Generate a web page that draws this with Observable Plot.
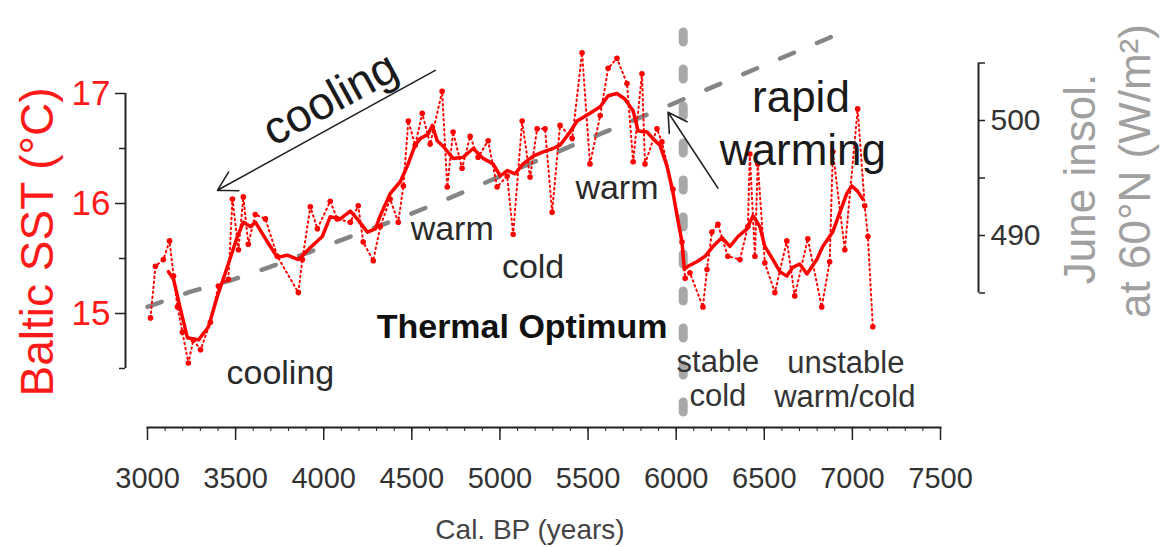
<!DOCTYPE html>
<html><head><meta charset="utf-8">
<script src="https://cdn.jsdelivr.net/npm/d3@7"></script>
<script src="https://cdn.jsdelivr.net/npm/@observablehq/plot@0.6"></script>
<style>body{margin:0;background:#fff}svg{font-family:"Liberation Sans",Arial,sans-serif}</style>
</head><body><div id="chart"></div>
<script>
// Raw Baltic SST samples (years BP, °C)
const rawYears = [3017,3045,3090,3125,3148,3170,3198,3232,3260,3301,3357,3402,3459,3482,3516,3544,3572,3612,3669,3737,3856,3879,3924,3964,4037,4077,4151,4196,4224,4281,4321,4377,4423,4452,4480,4519,4559,4604,4672,4701,4734,4785,4831,4876,4933,4984,5041,5075,5126,5171,5211,5256,5296,5341,5410,5466,5511,5569,5614,5664,5721,5756,5806,5823,5891,5919,5982,6033,6051,6078,6152,6175,6203,6237,6293,6362,6407,6418,6447,6463,6503,6560,6628,6673,6747,6826,6871,6889,6957,7030,7070,7088,7116];
const rawSST = [14.96,15.43,15.49,15.66,15.34,15.06,14.83,14.55,14.76,14.67,14.92,15.25,15.31,16.04,15.58,16.06,15.63,15.90,15.86,15.52,15.19,15.49,15.97,15.77,16.02,15.86,15.83,15.98,15.65,15.48,15.79,16.04,15.83,16.16,16.75,16.53,16.82,16.54,17.02,16.15,16.65,16.32,16.61,16.42,16.57,16.15,16.25,15.72,16.75,16.24,16.68,16.68,15.92,16.71,16.59,17.37,16.36,16.80,17.23,17.32,17.09,16.38,17.18,16.36,16.68,16.56,16.13,15.65,15.32,15.37,15.06,15.40,15.74,15.81,15.52,15.49,15.79,16.45,15.52,16.36,15.46,15.19,15.66,15.16,15.68,15.06,15.47,16.47,15.58,16.86,15.98,15.70,14.88];
// Smoothed SST curve
const smoothYears = [3119,3148,3187,3226,3290,3346,3397,3442,3510,3544,3584,3612,3681,3737,3793,3856,3924,3992,4037,4094,4151,4190,4248,4293,4321,4377,4435,4474,4519,4547,4592,4616,4644,4678,4734,4791,4848,4905,4961,5002,5041,5086,5131,5189,5245,5301,5341,5398,5438,5511,5569,5614,5664,5709,5756,5784,5835,5868,5908,5948,5982,6005,6033,6046,6067,6117,6164,6209,6260,6305,6351,6402,6436,6475,6503,6549,6589,6628,6662,6701,6742,6798,6832,6888,6929,6968,6996,7030,7059];
const smoothSST = [15.38,15.31,15.04,14.78,14.76,14.88,15.16,15.37,15.70,15.83,15.79,15.83,15.65,15.51,15.53,15.49,15.60,15.70,15.88,15.86,15.93,15.86,15.74,15.77,15.89,16.09,16.20,16.34,16.53,16.59,16.63,16.71,16.57,16.52,16.41,16.42,16.50,16.41,16.36,16.25,16.30,16.27,16.36,16.43,16.47,16.50,16.53,16.65,16.75,16.82,16.88,16.98,17.00,16.95,16.84,16.66,16.65,16.59,16.53,16.34,16.10,15.89,15.65,15.40,15.43,15.47,15.52,15.61,15.69,15.61,15.70,15.77,15.89,15.79,15.61,15.49,15.38,15.34,15.42,15.45,15.36,15.49,15.61,15.74,15.92,16.09,16.16,16.11,16.04];
// June insolation at 60°N (W/m²)
const insolYears = [3000,3241,3472,3684,3995,4448,4659,5453,5865,6870,6921];
const insolValues = [483.8,485.1,486.1,487.2,489.0,491.6,492.9,498.1,500.7,507.2,507.5];

const xTicks = [3000,3500,4000,4500,5000,5500,6000,6500,7000,7500];
const xMinorTicks = d3.range(3000, 7501, 100);
const sstTicks = [15,16,17];
const sstMinorTicks = [14.5,15.5,16.5];
const insolTicks = [490,500];
const insolMinorTicks = [485,495,505];

const boundaryYear = 6040;
const noteText = ["warm","cold","warm","cooling"];
const noteYear = [4729,5188,5664,3754];
const noteSST = [15.77,15.42,16.14,14.46];
const phaseText = ["stable","cold","unstable","warm/cold"];
const phaseYear = [6237,6237,6963,6957];
const phaseSST = [14.56,14.25,14.55,14.24];

// secondary axis mapping (insolation -> SST axis units)
const insolToY = v => 15.709 + (v - 490) * 0.10455;
const yToInsol = y => 490 + (y - 15.709) / 0.10455;

const raw = rawYears.map((y, i) => ({year: y, sst: rawSST[i]}));
const smooth = smoothYears.map((y, i) => ({year: y, sst: smoothSST[i]}));
const insol = insolYears.map((y, i) => ({year: y, v: insolValues[i]}));
const notes = noteText.map((t, i) => ({t, year: noteYear[i], sst: noteSST[i]}));
const phases = phaseText.map((t, i) => ({t, year: phaseYear[i], sst: phaseSST[i]}));

const ink = "#222";
const chart = Plot.plot({
  width: 1160, height: 547,
  marginLeft: 147, marginRight: 220, marginTop: 0, marginBottom: 120,
  x: {domain: [3000, 7500]},
  y: {domain: [14.5, 17], range: [368, 93]},
  style: {fontFamily: "Liberation Sans, Arial, sans-serif", background: "white", overflow: "visible"},
  marks: [
    // x axis
    Plot.frame({anchor: "bottom", strokeWidth: 2, stroke: ink}),
    Plot.axisX({ticks: xMinorTicks, tickSize: 4, tickFormat: () => "", label: null, stroke: ink}),
    Plot.axisX({ticks: xTicks, tickSize: 13, tickPadding: 27, tickFormat: d => String(d), fontSize: 29, fill: "#333", stroke: ink, strokeWidth: 1.5, label: null}),
    Plot.text(["Cal. BP (years)"], {frameAnchor: "bottom", textAnchor: "middle", lineAnchor: "middle", dx: -14, dy: 103, fontSize: 28, fill: "#444"}),
    // left axis
    Plot.ruleX([3000], {y1: 14.5, y2: 17, dx: -22, stroke: ink, strokeWidth: 2}),
    Plot.axisY({anchor: "left", ticks: sstMinorTicks, tickSize: 6, dx: -22, tickFormat: () => "", label: null, stroke: ink, strokeWidth: 1.5}),
    Plot.axisY({anchor: "left", ticks: sstTicks, tickSize: 10, tickPadding: 5, dx: -22, tickFormat: "d", fontSize: 35, fill: "#ff1a1a", stroke: ink, strokeWidth: 1.5, label: null}),
    Plot.text(["Baltic SST (°C)"], {frameAnchor: "left", textAnchor: "middle", lineAnchor: "middle", dx: -109, dy: 28, rotate: -90, fontSize: 46, fill: "#ff1a1a"}),
    // right axis (insolation)
    Plot.ruleX([7500], {y1: insolToY(485), y2: insolToY(505), dx: 38, stroke: ink, strokeWidth: 2}),
    Plot.axisY({anchor: "right", ticks: insolMinorTicks.map(insolToY), tickSize: 6, dx: 38, tickFormat: () => "", label: null, stroke: ink, strokeWidth: 1.5}),
    Plot.axisY({anchor: "right", ticks: insolTicks.map(insolToY), tickSize: 6, tickPadding: 6, dx: 38, tickFormat: d => String(Math.round(yToInsol(d))), fontSize: 30, fill: "#333", stroke: ink, strokeWidth: 1.5, label: null}),
    Plot.text(["June insol."], {frameAnchor: "right", textAnchor: "middle", lineAnchor: "middle", dx: 140, dy: -35, rotate: -90, fontSize: 44, fill: "#a0a0a0"}),
    Plot.text(["at 60°N (W/m²)"], {frameAnchor: "right", textAnchor: "middle", lineAnchor: "middle", dx: 195, dy: -43, rotate: -90, fontSize: 44, fill: "#a0a0a0"}),
    // insolation & boundary
    Plot.line(insol, {x: "year", y: d => insolToY(d.v), stroke: "#858585", strokeWidth: 4.5, strokeDasharray: "15,25"}),
    Plot.ruleX([boundaryYear], {y1: 14.1, y2: 17.8, stroke: "#a8a8a8", strokeWidth: 9, strokeLinecap: "round", strokeDasharray: "10,27"}),
    // SST
    Plot.line(raw, {x: "year", y: "sst", stroke: "#ff0000", strokeWidth: 2, strokeDasharray: "1.5,3.5", strokeLinecap: "round"}),
    Plot.dot(raw, {x: "year", y: "sst", r: 2.8, fill: "#ff0000"}),
    Plot.line(smooth, {x: "year", y: "sst", stroke: "#ff0000", strokeWidth: 3.5, strokeLinejoin: "round"}),
    // annotations
    Plot.text(notes, {x: "year", y: "sst", text: "t", fontSize: 34, fill: "#2a2a2a"}),
    Plot.text(phases, {x: "year", y: "sst", text: "t", fontSize: 31, fill: "#333"}),
    Plot.text(["Thermal Optimum"], {x: 5126, y: 14.88, fontSize: 34, fontWeight: "bold", fill: "#111"}),
    Plot.text(["cooling"], {x: 4037, y: 16.95, rotate: -28.6, fontSize: 46, fill: "#1a1a1a"}),
    Plot.text(["rapid"], {x: 6708, y: 16.96, fontSize: 44, fill: "#1a1a1a"}),
    Plot.text(["warming"], {x: 6719, y: 16.48, fontSize: 44, fill: "#1a1a1a"}),
    Plot.arrow([{x1: 4633, y1: 17.21, x2: 3397, y2: 16.12}], {x1: "x1", y1: "y1", x2: "x2", y2: "y2", stroke: "#222", strokeWidth: 1.6, headLength: 20}),
    Plot.arrow([{x1: 6237, y1: 16.14, x2: 5954, y2: 16.83}], {x1: "x1", y1: "y1", x2: "x2", y2: "y2", stroke: "#222", strokeWidth: 1.6, headLength: 20})
  ]
});
document.getElementById("chart").appendChild(chart);
</script>
</body></html>
